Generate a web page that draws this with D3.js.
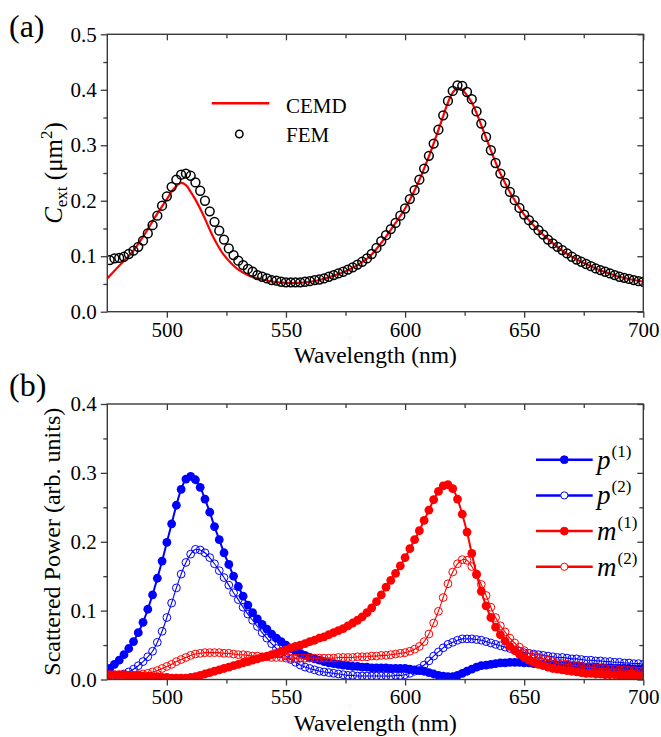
<!DOCTYPE html>
<html>
<head>
<meta charset="utf-8">
<script src="https://cdn.jsdelivr.net/npm/d3@7/dist/d3.min.js"></script>
<style>
    body { margin: 0; background: #fff; }
</style>
</head>
<body>
<div id="chart"></div>
<script>
// sampling grid shared by the FEM points and the four multipole curves (every 2 nm)
const wavelengths = d3.range(476, 701, 2);

// (a) extinction cross section, FEM points
const femValues = [
    0.093, 0.096, 0.097, 0.099, 0.104, 0.110, 0.117, 0.128, 0.141, 0.156,
    0.173, 0.191, 0.208, 0.225, 0.238, 0.247, 0.249, 0.245, 0.233, 0.218,
    0.200, 0.181, 0.162, 0.146, 0.130, 0.114, 0.102, 0.092, 0.084, 0.077,
    0.072, 0.066, 0.063, 0.060, 0.057, 0.056, 0.054, 0.053, 0.053, 0.053,
    0.053, 0.054, 0.055, 0.057, 0.058, 0.060, 0.063, 0.066, 0.069, 0.072,
    0.076, 0.080, 0.085, 0.090, 0.096, 0.104, 0.115, 0.127, 0.138, 0.149,
    0.160, 0.173, 0.186, 0.203, 0.219, 0.238, 0.258, 0.281, 0.303, 0.328,
    0.354, 0.380, 0.398, 0.408, 0.407, 0.396, 0.383, 0.361, 0.339, 0.315,
    0.291, 0.268, 0.249, 0.232, 0.216, 0.201, 0.187, 0.175, 0.165, 0.156,
    0.147, 0.139, 0.130, 0.123, 0.117, 0.111, 0.105, 0.099, 0.094, 0.090,
    0.086, 0.082, 0.078, 0.075, 0.072, 0.069, 0.066, 0.063, 0.061, 0.059,
    0.057, 0.055, 0.054
];

// (a) CEMD line
const cemdWl = [475, 480, 485, 490, 495, 500, 503, 506, 508, 510, 512, 515, 518, 520, 523, 526, 530, 535, 540, 545,
    550, 555, 560, 565, 570, 575, 580, 585, 590, 595, 600, 605, 610, 615, 618, 620, 622, 624, 626, 628,
    630, 635, 640, 645, 650, 655, 660, 665, 670, 675, 680, 685, 690, 695, 700];
const cemdValues = [0.060, 0.083, 0.105, 0.135, 0.170, 0.203, 0.222, 0.232, 0.228, 0.216, 0.202, 0.177, 0.148, 0.130, 0.108, 0.092, 0.076, 0.064, 0.058, 0.054,
    0.052, 0.052, 0.054, 0.058, 0.065, 0.073, 0.084, 0.099, 0.124, 0.154, 0.186, 0.228, 0.280, 0.340, 0.377, 0.395, 0.403, 0.400, 0.390, 0.377,
    0.358, 0.302, 0.249, 0.208, 0.175, 0.151, 0.131, 0.113, 0.099, 0.088, 0.078, 0.070, 0.063, 0.058, 0.054];

// (b) scattered power of each multipole
const p1Values = [
    0.016, 0.022, 0.028, 0.036, 0.045, 0.055, 0.068, 0.083, 0.102, 0.123,
    0.147, 0.172, 0.199, 0.226, 0.253, 0.276, 0.291, 0.295, 0.290, 0.279,
    0.262, 0.243, 0.222, 0.203, 0.184, 0.167, 0.150, 0.135, 0.121, 0.108,
    0.097, 0.088, 0.080, 0.073, 0.066, 0.060, 0.055, 0.050, 0.045, 0.041,
    0.038, 0.035, 0.032, 0.030, 0.028, 0.026, 0.024, 0.023, 0.022, 0.021,
    0.020, 0.019, 0.019, 0.018, 0.018, 0.017, 0.017, 0.017, 0.017, 0.016,
    0.016, 0.016, 0.016, 0.015, 0.014, 0.013, 0.012, 0.010, 0.008, 0.006,
    0.005, 0.004, 0.004, 0.006, 0.009, 0.012, 0.015, 0.018, 0.020, 0.021,
    0.022, 0.023, 0.024, 0.024, 0.025, 0.025, 0.025, 0.024, 0.024, 0.023,
    0.023, 0.022, 0.022, 0.021, 0.021, 0.020, 0.020, 0.019, 0.019, 0.019,
    0.018, 0.018, 0.018, 0.017, 0.017, 0.017, 0.016, 0.016, 0.016, 0.016,
    0.015, 0.015, 0.015
];
const p2Values = [
    0.002, 0.003, 0.005, 0.008, 0.011, 0.015, 0.020, 0.026, 0.033, 0.041,
    0.054, 0.070, 0.090, 0.111, 0.133, 0.153, 0.170, 0.182, 0.189, 0.188,
    0.184, 0.177, 0.168, 0.158, 0.148, 0.137, 0.126, 0.116, 0.105, 0.095,
    0.086, 0.077, 0.068, 0.060, 0.052, 0.045, 0.039, 0.034, 0.029, 0.025,
    0.021, 0.018, 0.016, 0.014, 0.012, 0.011, 0.010, 0.009, 0.008, 0.007,
    0.006, 0.006, 0.005, 0.005, 0.005, 0.005, 0.005, 0.005, 0.005, 0.005,
    0.006, 0.006, 0.007, 0.009, 0.012, 0.016, 0.021, 0.027, 0.034, 0.040,
    0.046, 0.051, 0.054, 0.057, 0.059, 0.059, 0.059, 0.058, 0.057, 0.055,
    0.053, 0.051, 0.049, 0.047, 0.045, 0.043, 0.041, 0.039, 0.038, 0.037,
    0.036, 0.035, 0.034, 0.033, 0.032, 0.032, 0.031, 0.030, 0.030, 0.029,
    0.028, 0.028, 0.027, 0.027, 0.026, 0.026, 0.025, 0.025, 0.024, 0.024,
    0.023, 0.023, 0.022
];
const m1Values = [
    0.007, 0.007, 0.007, 0.007, 0.006, 0.006, 0.006, 0.005, 0.005, 0.004,
    0.004, 0.003, 0.003, 0.002, 0.002, 0.002, 0.002, 0.003, 0.004, 0.006,
    0.008, 0.010, 0.012, 0.014, 0.016, 0.018, 0.020, 0.022, 0.024, 0.026,
    0.028, 0.030, 0.032, 0.034, 0.036, 0.038, 0.041, 0.043, 0.046, 0.048,
    0.050, 0.052, 0.055, 0.057, 0.060, 0.062, 0.065, 0.068, 0.071, 0.074,
    0.078, 0.082, 0.086, 0.091, 0.097, 0.104, 0.113, 0.123, 0.134, 0.144,
    0.154, 0.165, 0.177, 0.190, 0.203, 0.216, 0.231, 0.246, 0.261, 0.273,
    0.281, 0.283, 0.277, 0.262, 0.240, 0.214, 0.183, 0.153, 0.128, 0.107,
    0.090, 0.076, 0.065, 0.056, 0.048, 0.042, 0.037, 0.032, 0.028, 0.025,
    0.022, 0.020, 0.018, 0.016, 0.015, 0.014, 0.013, 0.012, 0.011, 0.010,
    0.009, 0.009, 0.008, 0.008, 0.007, 0.007, 0.007, 0.006, 0.006, 0.006,
    0.006, 0.005, 0.005
];
const m2Values = [
    0.003, 0.003, 0.004, 0.004, 0.005, 0.006, 0.007, 0.008, 0.009, 0.011,
    0.013, 0.016, 0.019, 0.022, 0.026, 0.029, 0.032, 0.035, 0.037, 0.038,
    0.039, 0.039, 0.039, 0.039, 0.038, 0.038, 0.037, 0.036, 0.036, 0.035,
    0.034, 0.034, 0.033, 0.033, 0.032, 0.032, 0.032, 0.031, 0.031, 0.031,
    0.031, 0.031, 0.031, 0.031, 0.031, 0.031, 0.031, 0.031, 0.032, 0.032,
    0.032, 0.032, 0.033, 0.033, 0.033, 0.034, 0.034, 0.035, 0.035, 0.036,
    0.037, 0.038, 0.039, 0.041, 0.044, 0.048, 0.055, 0.066, 0.082, 0.099,
    0.119, 0.139, 0.156, 0.168, 0.174, 0.173, 0.164, 0.152, 0.138, 0.122,
    0.105, 0.090, 0.078, 0.069, 0.060, 0.053, 0.047, 0.042, 0.038, 0.035,
    0.032, 0.030, 0.028, 0.026, 0.024, 0.023, 0.022, 0.021, 0.020, 0.019,
    0.018, 0.018, 0.017, 0.016, 0.016, 0.015, 0.015, 0.014, 0.014, 0.013,
    0.013, 0.012, 0.012
];

const xMajor = [500, 550, 600, 650, 700];
const xMinor = [525, 575, 625, 675];
const yMajorA = [0, 0.1, 0.2, 0.3, 0.4, 0.5];
const yMinorA = [0.05, 0.15, 0.25, 0.35, 0.45];
const yMajorB = [0, 0.1, 0.2, 0.3, 0.4];
const yMinorB = [0.05, 0.15, 0.25, 0.35];

const BLUE = "#0000ff", RED = "#ff0000", AXIS = "#3a3a3a";

// pick the first serif family the browser actually has
function pickSerif() {
    const ctx = document.createElement("canvas").getContext("2d");
    const probe = "mmmmmmmmmmlliiWW0123";
    const widthOf = f => { ctx.font = "40px " + f; return ctx.measureText(probe).width; };
    const mono = widthOf("monospace"), sans = widthOf("sans-serif");
    const names = ["Liberation Serif", "Times New Roman", "Tinos", "DejaVu Serif", "Noto Serif", "FreeSerif"];
    for (const n of names) {
        const a = widthOf(`"${n}", monospace`), b = widthOf(`"${n}", sans-serif`);
        if (a !== mono || b !== sans) return `"${n}", serif`;
    }
    return "serif";
}
const FONT = pickSerif();

class SpectrumPanel {
    constructor(svg, id, top, bottom, yMax, yMajor, yMinor) {
        this.svg = svg;
        this.id = id;
        this.left = 107.3;
        this.right = 643.3;
        this.top = top;
        this.bottom = bottom;
        this.yMax = yMax;
        this.yMajor = yMajor;
        this.yMinor = yMinor;

        this.initVis();
    }

    initVis() {
        let vis = this;

        vis.x = d3.scaleLinear().domain([475, 700]).range([vis.left, vis.right]);
        vis.y = d3.scaleLinear().domain([0, vis.yMax]).range([vis.bottom, vis.top]);

        vis.svg.append("clipPath").attr("id", "clip-" + vis.id)
            .append("rect")
            .attr("x", vis.left).attr("y", vis.top)
            .attr("width", vis.right - vis.left).attr("height", vis.bottom - vis.top);

        vis.plot = vis.svg.append("g").attr("clip-path", "url(#clip-" + vis.id + ")");

        // axes: out ticks at bottom/left, in ticks on the mirrored top/right
        const styleAxis = g => {
            g.attr("font-family", null).attr("font-size", 21);
            g.select(".domain").remove();
            g.selectAll("line").attr("stroke", AXIS).attr("stroke-width", 1.3);
            g.selectAll("text").attr("fill", "#000");
        };

        vis.svg.append("g").attr("transform", `translate(0,${vis.bottom})`)
            .call(d3.axisBottom(vis.x).tickValues(xMajor).tickSize(6).tickPadding(4).tickFormat(d3.format("d")))
            .call(styleAxis);
        vis.svg.append("g").attr("transform", `translate(0,${vis.bottom})`)
            .call(d3.axisBottom(vis.x).tickValues(xMinor).tickSize(4).tickFormat(""))
            .call(styleAxis);
        vis.svg.append("g").attr("transform", `translate(0,${vis.top})`)
            .call(d3.axisTop(vis.x).tickValues(xMajor).tickSize(-6).tickFormat(""))
            .call(styleAxis);
        vis.svg.append("g").attr("transform", `translate(0,${vis.top})`)
            .call(d3.axisTop(vis.x).tickValues(xMinor).tickSize(-4).tickFormat(""))
            .call(styleAxis);

        vis.svg.append("g").attr("transform", `translate(${vis.left},0)`)
            .call(d3.axisLeft(vis.y).tickValues(vis.yMajor).tickSize(6.5).tickPadding(4).tickFormat(d3.format(".1f")))
            .call(styleAxis);
        vis.svg.append("g").attr("transform", `translate(${vis.left},0)`)
            .call(d3.axisLeft(vis.y).tickValues(vis.yMinor).tickSize(4).tickFormat(""))
            .call(styleAxis);
        vis.svg.append("g").attr("transform", `translate(${vis.right},0)`)
            .call(d3.axisRight(vis.y).tickValues(vis.yMajor).tickSize(-6).tickFormat(""))
            .call(styleAxis);
        vis.svg.append("g").attr("transform", `translate(${vis.right},0)`)
            .call(d3.axisRight(vis.y).tickValues(vis.yMinor).tickSize(-4).tickFormat(""))
            .call(styleAxis);

        vis.svg.append("rect")
            .attr("x", vis.left).attr("y", vis.top)
            .attr("width", vis.right - vis.left).attr("height", vis.bottom - vis.top)
            .attr("fill", "none").attr("stroke", AXIS).attr("stroke-width", 1.4);

        vis.svg.append("text")
            .attr("x", (vis.left + vis.right) / 2).attr("y", vis.bottom + 51)
            .attr("text-anchor", "middle").attr("font-size", 23.5)
            .text("Wavelength (nm)");
    }

    line(xs, ys, color, width) {
        let vis = this;
        const pts = xs.map((d, i) => [d, ys[i]]);
        vis.plot.append("path")
            .datum(pts)
            .attr("fill", "none")
            .attr("stroke", color)
            .attr("stroke-width", width)
            .attr("d", d3.line().x(d => vis.x(d[0])).y(d => vis.y(d[1])).curve(d3.curveCatmullRom));
    }

    markers(xs, ys, color, r, filled, strokeWidth) {
        let vis = this;
        vis.plot.append("g").selectAll("circle")
            .data(xs.map((d, i) => [d, ys[i]]))
            .enter()
            .append("circle")
            .attr("cx", d => vis.x(d[0]))
            .attr("cy", d => vis.y(d[1]))
            .attr("r", r)
            .attr("fill", filled ? color : "none")
            .attr("stroke", filled ? "none" : color)
            .attr("stroke-width", strokeWidth);
    }
}

const svg = d3.select("#chart").append("svg")
    .attr("width", 661)
    .attr("height", 737)
    .style("font-family", FONT);

// ---------- panel (a)
const panelA = new SpectrumPanel(svg, "a", 34.3, 311.7, 0.5, yMajorA, yMinorA);
panelA.line(cemdWl, cemdValues, RED, 2.2);
panelA.markers(wavelengths, femValues, "#000", 4.4, false, 1.5);

svg.append("text").attr("x", 9).attr("y", 37).attr("font-size", 32).text("(a)");

const titleA = svg.append("text")
    .attr("transform", `translate(62,${(34.3 + 311.7) / 2}) rotate(-90)`)
    .attr("text-anchor", "middle").attr("font-size", 25);
titleA.append("tspan").attr("font-style", "italic").text("C");
titleA.append("tspan").attr("font-size", 17).attr("dy", 5).text("ext");
titleA.append("tspan").attr("dy", -5).text(" (\u03bcm");
titleA.append("tspan").attr("font-size", 17).attr("dy", -10).text("2");
titleA.append("tspan").attr("dy", 10).text(")");

// legend (a)
const legA = svg.append("g");
legA.append("line").attr("x1", 211.7).attr("x2", 269.3).attr("y1", 103.3).attr("y2", 103.3)
    .attr("stroke", RED).attr("stroke-width", 2.5);
legA.append("text").attr("x", 286).attr("y", 113).attr("font-size", 21).text("CEMD");
legA.append("circle").attr("cx", 239.3).attr("cy", 134).attr("r", 3.7)
    .attr("fill", "none").attr("stroke", "#000").attr("stroke-width", 1.5);
legA.append("text").attr("x", 286).attr("y", 141.7).attr("font-size", 21).text("FEM");

// ---------- panel (b)
const panelB = new SpectrumPanel(svg, "b", 404, 679.5, 0.4, yMajorB, yMinorB);

const seriesB = [
    {name: "p", order: "(1)", values: p1Values, color: BLUE, filled: true},
    {name: "p", order: "(2)", values: p2Values, color: BLUE, filled: false},
    {name: "m", order: "(1)", values: m1Values, color: RED, filled: true},
    {name: "m", order: "(2)", values: m2Values, color: RED, filled: false}
];

seriesB.forEach(s => {
    panelB.line(wavelengths, s.values, s.color, s.filled ? 2 : 1.1);
    panelB.markers(wavelengths, s.values, s.color, s.filled ? 4.4 : 3.9, s.filled, 1);
});

svg.append("text").attr("x", 9).attr("y", 396).attr("font-size", 32).text("(b)");

svg.append("text")
    .attr("transform", `translate(60,${(404 + 679.5) / 2}) rotate(-90)`)
    .attr("text-anchor", "middle").attr("font-size", 24)
    .text("Scattered Power (arb. units)");

// legend (b)
const legB = svg.append("g");
seriesB.forEach((s, i) => {
    const ly = 459.7 + i * 35.7;
    legB.append("line").attr("x1", 536).attr("x2", 592.7).attr("y1", ly).attr("y2", ly)
        .attr("stroke", s.color).attr("stroke-width", 2.5);
    legB.append("circle").attr("cx", 564.3).attr("cy", ly).attr("r", s.filled ? 3.9 : 3.6)
        .attr("fill", s.filled ? s.color : "#fff").attr("stroke", s.color).attr("stroke-width", 1);
    const t = legB.append("text").attr("x", 597).attr("y", ly + 9).attr("font-size", 27);
    t.append("tspan").attr("font-style", "italic").text(s.name);
    t.append("tspan").attr("font-size", 17).attr("dy", -12).attr("dx", 1).text(s.order);
});
</script>
</body>
</html>
